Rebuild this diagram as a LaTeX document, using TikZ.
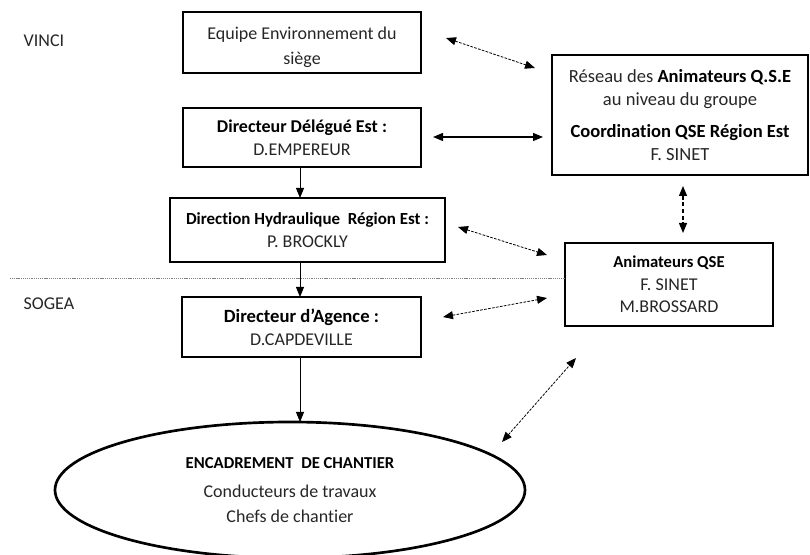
\documentclass[tikz,border=0pt]{standalone}
\usepackage{fontspec}
\setmainfont{Carlito}[Ligatures=NoCommon]
\usetikzlibrary{arrows.meta,shapes.geometric}
\definecolor{ink}{gray}{0.15}
\begin{document}
\begin{tikzpicture}[x=0.75pt,y=-0.75pt,
  txt/.style={font=\fontsize{13.5}{17}\selectfont, text=ink},
  orgbox/.style={draw, line width=1.5pt, align=center, inner sep=0pt, outer sep=0pt, txt},
  tip/.style={{Triangle[length=7.5pt,width=6pt]}-{Triangle[length=7.5pt,width=6pt]}},
  down/.style={-{Triangle[length=7.5pt,width=6pt]}, line width=0.6pt},
  link/.style={tip, line width=0.6pt, dash pattern=on 2pt off 1pt},
  vlink/.style={tip, line width=0.9pt, dash pattern=on 3pt off 2pt},
  solidlink/.style={tip, line width=0.9pt}
]
\useasboundingbox (0,0) rectangle (810,555);

% group / company labels
\node[txt, anchor=west] (vinci) at (19,41) {VINCI};
\node[txt, anchor=west] (sogea) at (19,304) {SOGEA};

% boundary between group and company levels
\coordinate (sepL) at (10,278);

% hierarchy boxes
\node[orgbox, minimum width=178.5pt, minimum height=45.75pt] (siege) at (302,42.5)
  {\rule{0pt}{17pt}Equipe Environnement du\\[2pt]siège};
\node[orgbox, minimum width=178.5pt, minimum height=44.25pt] (dde) at (302,137.5)
  {{\fontsize{13.5}{17}\selectfont\bfseries\color{black}Directeur Délégué Est :}\\D.EMPEREUR};
\node[orgbox, minimum width=206.25pt, minimum height=48pt] (dhre) at (307.5,230)
  {{\fontsize{12.7}{17}\selectfont\bfseries\color{black}Direction Hydraulique\ \ Région Est :}\\P. BROCKLY};
\node[orgbox, minimum width=179.25pt, minimum height=45pt] (agence) at (301.5,327)
  {{\fontsize{14}{17}\selectfont\bfseries\color{black}Directeur d’Agence :}\\D.CAPDEVILLE};

% QSE network boxes
\node[orgbox, minimum width=192pt, minimum height=90pt, font=\fontsize{13.9}{17}\selectfont] (reseau) at (680,115)
  {Réseau des {\bfseries\color{black}Animateurs Q.S.E}\\au niveau du groupe\\[7pt]
   {\bfseries\color{black}Coordination QSE Région Est}\\F. SINET};
\node[orgbox, minimum width=156pt, minimum height=62.25pt] (anim) at (669,284.5)
  {{\fontsize{12.5}{17}\selectfont\bfseries\color{black}Animateurs QSE}\\F. SINET\\M.BROSSARD};

% site management
\node[ellipse, draw, line width=2pt, minimum width=352.5pt, minimum height=102pt,
      inner sep=0pt, outer sep=0pt, align=center, txt] (chantier) at (290,490)
  {{\fontsize{12.5}{17}\selectfont\bfseries\color{black}ENCADREMENT\ \ DE CHANTIER}\\[5pt]
   Conducteurs de travaux\\[2pt]Chefs de chantier};

\draw[gray, line width=0.5pt, dash pattern=on 0.8pt off 0.6pt] (sepL) -- (sepL -| anim.west);

% line of command
\draw[down] (dde.south -| 300,0) -- (dhre.north -| 300,0);
\draw[down] (dhre.south -| 300,0) -- (agence.north -| 300,0);
\draw[down] (agence.south -| 300,0) -- (chantier.north -| 300,0);

% exchanges with the QSE network
\coordinate (a1) at (446,38);  \coordinate (b1) at (535,68);
\coordinate (a2) at (433,137); \coordinate (b2) at (543,137);
\coordinate (a3) at (683,186); \coordinate (b3) at (683,233);
\coordinate (a4) at (458,227); \coordinate (b4) at (547,255);
\coordinate (a5) at (443,317); \coordinate (b5) at (547,298);
\coordinate (a6) at (502,442); \coordinate (b6) at (576,358);

\draw[link] (a1) -- (b1);
\draw[solidlink] (a2) -- (b2);
\draw[vlink] (a3) -- (b3);
\draw[link] (a4) -- (b4);
\draw[link] (a5) -- (b5);
\draw[link] (a6) -- (b6);
\end{tikzpicture}
\end{document}
